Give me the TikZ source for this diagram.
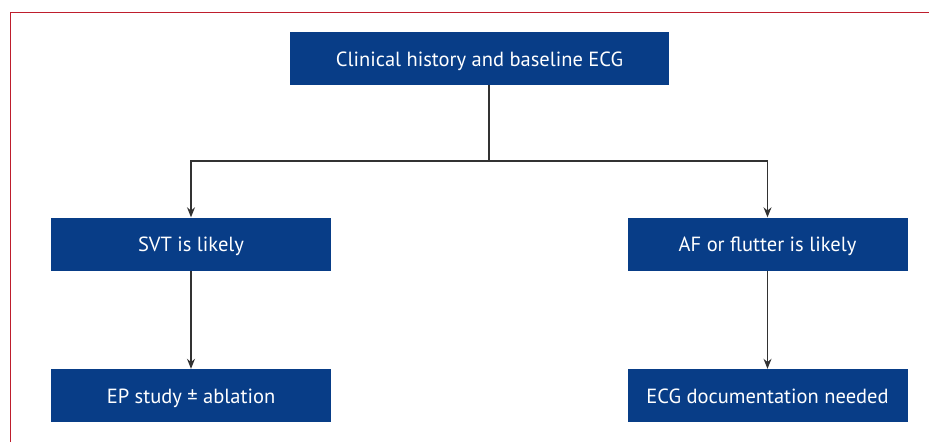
\documentclass[tikz,border=0pt]{standalone}
\usepackage{fontspec}
\setmainfont{PT Sans}
\usetikzlibrary{arrows.meta}
\definecolor{boxblue}{RGB}{8,61,135}
\definecolor{framered}{RGB}{190,30,45}
\definecolor{linegray}{RGB}{50,50,50}

\begin{document}
\begin{tikzpicture}[x=1pt,y=-1pt,
    box/.style={fill=boxblue, text=white, minimum height=53pt, inner sep=0pt,
      text height=15.6pt, text depth=0pt, font=\fontsize{20.5}{24}\selectfont},
    link/.style={draw=linegray, line width=1.2pt, -{Stealth[length=10pt,width=8pt]}}]
  \useasboundingbox (0,0) rectangle (929,442);
  % frame
  \draw[framered, line width=1.5pt] (10.5,442) -- (10.5,12.5) -- (929,12.5);
  % boxes
  \node[box, minimum width=379pt] (hist) at (479.5,58.5) {Clinical history and baseline ECG};
  \node[box, minimum width=280pt] (svt) at (191,244) {SVT is likely};
  \node[box, minimum width=280pt] (af) at (767.5,244) {AF or flutter is likely};
  \node[box, minimum width=280pt] (ep) at (191,395.5) {EP study ± ablation};
  \node[box, minimum width=280pt] (doc) at (767.5,395.5) {ECG documentation needed};
  % arrows
  \coordinate (fork) at (489,161);
  \draw[linegray, line width=1.2pt] (hist.south -| fork) -- (fork);
  \draw[link] (fork) -| (svt);
  \draw[link] (fork) -| (af);
  \draw[link] (svt) -- (ep);
  \draw[link] (af) -- (doc);
\end{tikzpicture}
\end{document}
